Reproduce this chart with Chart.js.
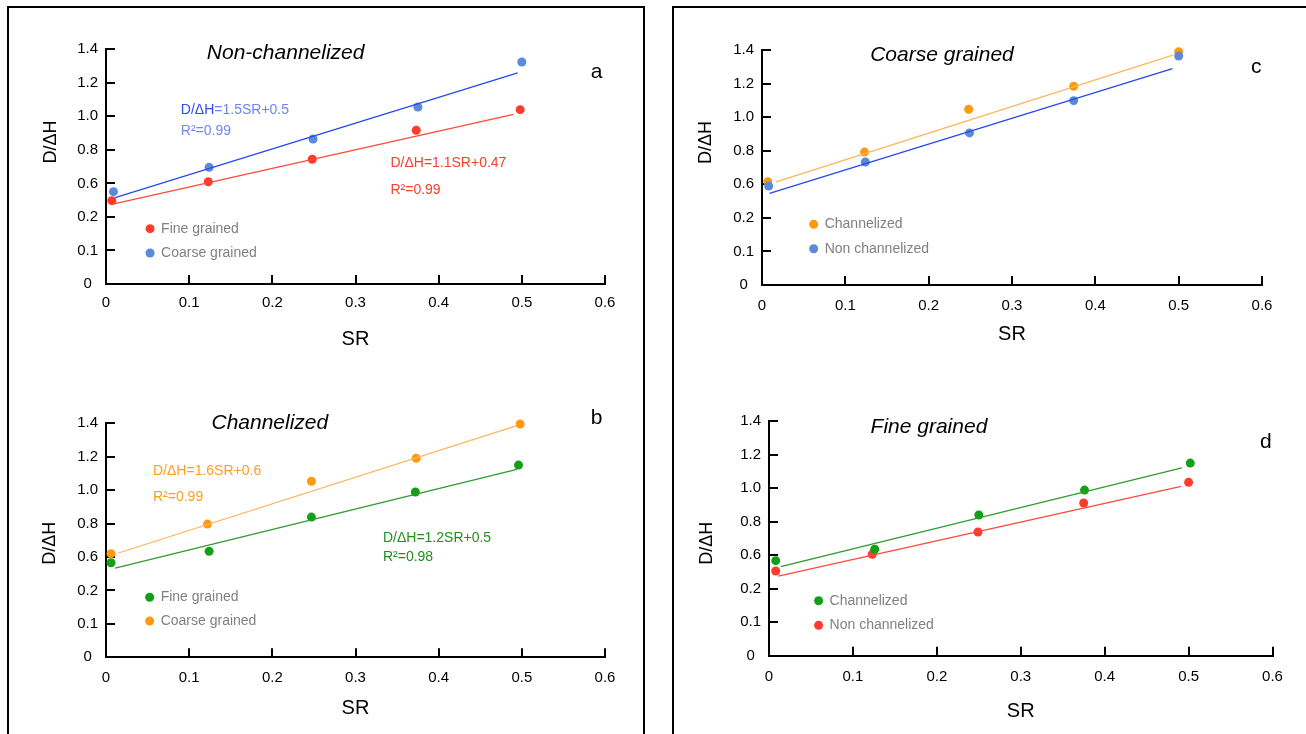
<!DOCTYPE html>
<html>
<head>
<meta charset="utf-8">
<title>D/ΔH vs SR</title>
<script src="https://cdn.jsdelivr.net/npm/chart.js@4.4.0/dist/chart.umd.min.js"></script>
<style>
  body { margin: 0; background: #fff; width: 1306px; height: 734px; overflow: hidden; position: relative; }
  .panel { position: absolute; border: 2px solid #000; border-bottom: none; box-sizing: border-box; }
  #panelL { left: 7px; top: 6px; width: 638px; height: 740px; }
  #panelR { left: 672px; top: 6px; width: 700px; height: 740px; }
  canvas { position: absolute; }
</style>
</head>
<body>
<div class="panel" id="panelL"></div>
<div class="panel" id="panelR"></div>
<canvas id="chartA"></canvas>
<canvas id="chartB"></canvas>
<canvas id="chartC"></canvas>
<canvas id="chartD"></canvas>
<script>
// axis labels (the y labels are printed this way in the source figure)
const yTickLabels = ['0', '0.1', '0.2', '0.6', '0.8', '1.0', '1.2', '1.4'];
const xTickLabels = ['0', '0.1', '0.2', '0.3', '0.4', '0.5', '0.6'];

// a - Non-channelized
const aFineX = [0.007, 0.123, 0.248, 0.373, 0.498];
const aFineY = [0.497, 0.610, 0.744, 0.917, 1.040];
const aCoarseX = [0.009, 0.124, 0.249, 0.375, 0.500];
const aCoarseY = [0.551, 0.696, 0.865, 1.056, 1.324];
const aFineFitX = [0.008, 0.490];
const aFineFitY = [0.477, 1.012];
const aCoarseFitX = [0.011, 0.495];
const aCoarseFitY = [0.515, 1.260];

// b - Channelized
const bFineX = [0.006, 0.124, 0.247, 0.372, 0.496];
const bFineY = [0.566, 0.634, 0.839, 0.989, 1.150];
const bCoarseX = [0.006, 0.122, 0.247, 0.373, 0.498];
const bCoarseY = [0.620, 0.797, 1.053, 1.191, 1.396];
const bFineFitX = [0.011, 0.494];
const bFineFitY = [0.534, 1.125];
const bCoarseFitX = [0.015, 0.494];
const bCoarseFitY = [0.624, 1.386];

// c - Coarse grained
const cChanX = [0.007, 0.123, 0.248, 0.374, 0.500];
const cChanY = [0.615, 0.792, 1.047, 1.184, 1.390];
const cNonX = [0.008, 0.124, 0.249, 0.374, 0.500];
const cNonY = [0.590, 0.733, 0.906, 1.098, 1.364];
const cChanFitX = [0.017, 0.493];
const cChanFitY = [0.615, 1.370];
const cNonFitX = [0.009, 0.4925];
const cNonFitY = [0.546, 1.289];

// d - Fine grained
const dChanX = [0.008, 0.126, 0.250, 0.376, 0.502];
const dChanY = [0.567, 0.635, 0.839, 0.988, 1.149];
const dNonX = [0.008, 0.123, 0.249, 0.375, 0.500];
const dNonY = [0.505, 0.605, 0.738, 0.911, 1.034];
const dChanFitX = [0.014, 0.492];
const dChanFitY = [0.531, 1.121];
const dNonFitX = [0.011, 0.491];
const dNonFitY = [0.475, 1.010];

const FONT = "'Liberation Sans', Arial, sans-serif";
Chart.defaults.font.family = FONT;
Chart.defaults.color = '#000';

const RED = '#ff3b2b', RED_LINE = '#ff4a3a';
const BLUE = '#5a8ad9', BLUE_LINE = '#2548f5';
const ORANGE = '#ff9a10', ORANGE_LINE = '#ffb560';
const GREEN = '#12a018', GREEN_LINE = '#2f9a2f';

function pts(xs, ys) {
    return xs.map(function (x, i) { return { x: x, y: ys[i] }; });
}

function dots(label, xs, ys, color) {
    return { label: label, data: pts(xs, ys), backgroundColor: color, borderWidth: 0, pointRadius: 4.5, showLine: false, clip: false };
}

function fit(xs, ys, color) {
    return { label: '', data: pts(xs, ys), borderColor: color, borderWidth: 1.3, pointRadius: 0, showLine: true, clip: false };
}

// texts, legend and the y title drawn on top of the chart
function notes(cfg) {
    return {
        id: 'notes',
        afterDraw: function (chart) {
            var ctx = chart.ctx, xs = chart.scales.x, ys = chart.scales.y;
            ctx.save();
            ctx.textBaseline = 'middle';

            ctx.save();
            ctx.translate(chart.chartArea.left + cfg.yTitleDx, ys.getPixelForValue(cfg.yTitleAt));
            ctx.rotate(-Math.PI / 2);
            ctx.font = '18px ' + FONT;
            ctx.fillStyle = '#000';
            ctx.textAlign = 'center';
            ctx.fillText('D/ΔH', 0, 0);
            ctx.restore();

            cfg.texts.forEach(function (t) {
                ctx.font = t.font;
                ctx.textAlign = t.align || 'left';
                var x = xs.getPixelForValue(t.x), y = ys.getPixelForValue(t.y);
                t.parts.forEach(function (p) {
                    ctx.fillStyle = p[1];
                    ctx.fillText(p[0], x, y);
                    x += ctx.measureText(p[0]).width;
                });
            });

            cfg.legend.forEach(function (l) {
                var ds = chart.data.datasets[l.ds];
                var x = xs.getPixelForValue(cfg.legendX), y = ys.getPixelForValue(l.y);
                ctx.beginPath();
                ctx.arc(x, y, 4.5, 0, 2 * Math.PI);
                ctx.fillStyle = ds.backgroundColor;
                ctx.fill();
                ctx.font = '14px ' + FONT;
                ctx.textAlign = 'left';
                ctx.fillStyle = '#808080';
                ctx.fillText(ds.label, x + 11, y);
            });
            ctx.restore();
        }
    };
}

function makeChart(id, cfg) {
    var canvas = document.getElementById(id);
    var b = cfg.box, p = cfg.plot;
    var yW = 60;
    canvas.style.left = b.left + 'px';
    canvas.style.top = b.top + 'px';
    canvas.width = b.width;
    canvas.height = b.height;

    var axisGrid = { drawOnChartArea: false, color: '#000', lineWidth: 2, tickLength: -9, tickWidth: 2 };
    var axisBorder = { display: true, color: '#000', width: 2 };

    return new Chart(canvas.getContext('2d'), {
        type: 'scatter',
        data: { datasets: cfg.datasets },
        options: {
            responsive: false,
            animation: false,
            devicePixelRatio: 1,
            layout: {
                padding: {
                    left: p.left - b.left - yW,
                    right: b.left + b.width - p.right,
                    top: p.top - b.top,
                    bottom: b.top + b.height - p.bottom - cfg.xAxisH
                }
            },
            plugins: { legend: { display: false }, tooltip: { enabled: false } },
            scales: {
                x: {
                    type: 'linear', min: 0, max: 0.6,
                    grid: axisGrid, border: axisBorder,
                    ticks: {
                        stepSize: 0.1, padding: cfg.xTickPad, font: { size: 15 }, color: '#000', maxRotation: 0,
                        callback: function (v, i) { return xTickLabels[i]; }
                    },
                    title: { display: true, text: 'SR', font: { size: 20 }, color: '#000', padding: 0 },
                    afterFit: function (s) { s.height = cfg.xAxisH; }
                },
                y: {
                    type: 'linear', min: 0, max: 1.4,
                    grid: axisGrid, border: axisBorder,
                    ticks: {
                        stepSize: 0.2, padding: 17, crossAlign: 'center', font: { size: 15 }, color: '#000',
                        callback: function (v, i) { return yTickLabels[i]; }
                    },
                    afterFit: function (s) { s.width = yW; }
                }
            }
        },
        plugins: [notes(cfg)]
    });
}

var TITLE = 'italic 21px ' + FONT;
var EQ = '14px ' + FONT;

makeChart('chartA', {
    box: { left: 10, top: 10, width: 630, height: 350 },
    plot: { left: 106, right: 605, top: 49.3, bottom: 284 },
    xAxisH: 67, xTickPad: 19,
    yTitleDx: -55, yTitleAt: 0.847,
    datasets: [
        fit(aCoarseFitX, aCoarseFitY, BLUE_LINE),
        fit(aFineFitX, aFineFitY, RED_LINE),
        dots('Fine grained', aFineX, aFineY, RED),
        dots('Coarse grained', aCoarseX, aCoarseY, BLUE)
    ],
    legendX: 0.053,
    legend: [{ ds: 2, y: 0.330 }, { ds: 3, y: 0.185 }],
    texts: [
        { font: TITLE, align: 'center', x: 0.216, y: 1.378, parts: [['Non-channelized', '#000']] },
        { font: '21px ' + FONT, align: 'center', x: 0.590, y: 1.265, parts: [['a', '#000']] },
        { font: EQ, x: 0.090, y: 1.038, parts: [['D/ΔH', '#2e4cf5'], ['=1.5SR+0.5', '#6f82f2']] },
        { font: EQ, x: 0.090, y: 0.913, parts: [['R²=0.99', '#7487f2']] },
        { font: EQ, x: 0.342, y: 0.720, parts: [['D/ΔH=1.1SR+0.47', '#f5412e']] },
        { font: EQ, x: 0.342, y: 0.561, parts: [['R²=0.99', '#f5412e']] }
    ]
});

makeChart('chartB', {
    box: { left: 10, top: 380, width: 630, height: 350 },
    plot: { left: 106, right: 605, top: 423.3, bottom: 657.3 },
    xAxisH: 63, xTickPad: 21,
    yTitleDx: -55.5, yTitleAt: 0.682,
    datasets: [
        fit(bCoarseFitX, bCoarseFitY, ORANGE_LINE),
        fit(bFineFitX, bFineFitY, GREEN_LINE),
        dots('Fine grained', bFineX, bFineY, GREEN),
        dots('Coarse grained', bCoarseX, bCoarseY, ORANGE)
    ],
    legendX: 0.0525,
    legend: [{ ds: 2, y: 0.359 }, { ds: 3, y: 0.217 }],
    texts: [
        { font: TITLE, align: 'center', x: 0.197, y: 1.402, parts: [['Channelized', '#000']] },
        { font: '21px ' + FONT, align: 'center', x: 0.590, y: 1.432, parts: [['b', '#000']] },
        { font: EQ, x: 0.0565, y: 1.115, parts: [['D/ΔH=1.6SR+0.6', '#ff9d1e']] },
        { font: EQ, x: 0.0565, y: 0.959, parts: [['R²=0.99', '#ff9d1e']] },
        { font: EQ, x: 0.333, y: 0.714, parts: [['D/ΔH=1.2SR+0.5', '#1f8f1f']] },
        { font: EQ, x: 0.333, y: 0.600, parts: [['R²=0.98', '#1f8f1f']] }
    ]
});

makeChart('chartC', {
    box: { left: 676, top: 10, width: 628, height: 350 },
    plot: { left: 762, right: 1262, top: 50, bottom: 285 },
    xAxisH: 61, xTickPad: 21,
    yTitleDx: -56, yTitleAt: 0.849,
    datasets: [
        fit(cChanFitX, cChanFitY, ORANGE_LINE),
        fit(cNonFitX, cNonFitY, BLUE_LINE),
        dots('Non channelized', cNonX, cNonY, BLUE),
        dots('Channelized', cChanX, cChanY, ORANGE)
    ],
    legendX: 0.062,
    legend: [{ ds: 3, y: 0.3615 }, { ds: 2, y: 0.216 }],
    texts: [
        { font: TITLE, align: 'center', x: 0.216, y: 1.370, parts: [['Coarse grained', '#000']] },
        { font: '21px ' + FONT, align: 'center', x: 0.593, y: 1.300, parts: [['c', '#000']] }
    ]
});

makeChart('chartD', {
    box: { left: 676, top: 380, width: 628, height: 350 },
    plot: { left: 769, right: 1272.5, top: 421, bottom: 655.7 },
    xAxisH: 68, xTickPad: 21,
    yTitleDx: -62.3, yTitleAt: 0.671,
    datasets: [
        fit(dChanFitX, dChanFitY, GREEN_LINE),
        fit(dNonFitX, dNonFitY, RED_LINE),
        dots('Channelized', dChanX, dChanY, GREEN),
        dots('Non channelized', dNonX, dNonY, RED)
    ],
    legendX: 0.0591,
    legend: [{ ds: 2, y: 0.328 }, { ds: 3, y: 0.181 }],
    texts: [
        { font: TITLE, align: 'center', x: 0.1906, y: 1.364, parts: [['Fine grained', '#000']] },
        { font: '21px ' + FONT, align: 'center', x: 0.592, y: 1.271, parts: [['d', '#000']] }
    ]
});
</script>
</body>
</html>
